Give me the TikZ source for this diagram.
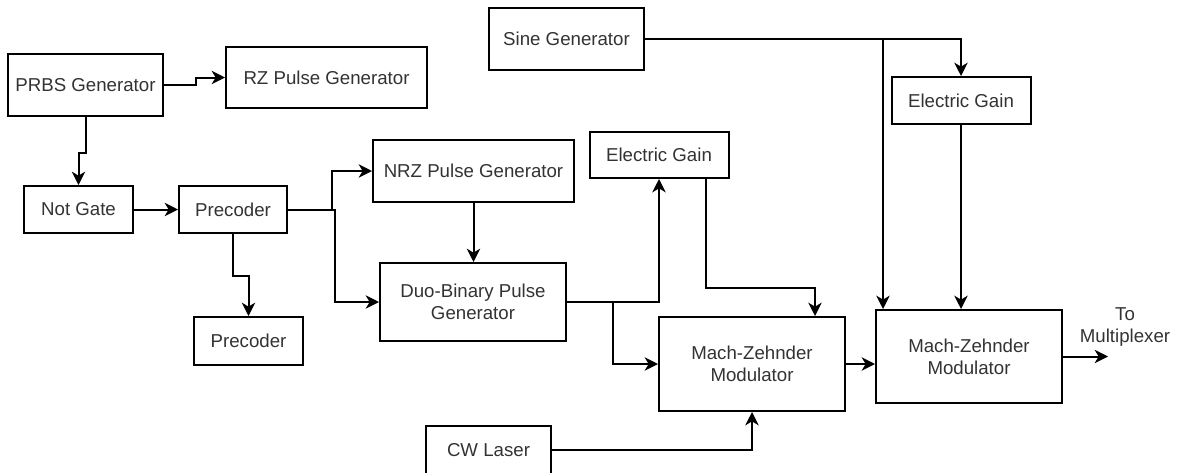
\documentclass[tikz,border=0pt]{standalone}
\usepackage{fontspec}
\setmainfont{Liberation Sans}
\usepackage{tikz}
\usetikzlibrary{positioning,arrows.meta}
\definecolor{TextGray}{RGB}{51,51,51}
\tikzset{
  blk/.style={draw=black,line width=1.5pt,fill=white,inner sep=2pt,align=center,
    text=TextGray,font=\fontsize{14}{16.5}\selectfont},
  link/.style={draw=black,line width=1.5pt,-{Stealth[length=10pt,width=10pt,inset=3pt]}},
}
\begin{document}
\begin{tikzpicture}[x=0.75pt,y=-0.75pt]
\useasboundingbox (0,0) rectangle (1177,472);
\clip (0,0) rectangle (1177,472);
\node[blk,minimum width=116.25pt,minimum height=46.5pt] (prbs) at (85.5,85) {PRBS Generator};
\node[blk,minimum width=150.75pt,minimum height=45.75pt] (rzgen) at (326.5,77.5) {RZ Pulse Generator};
\node[blk,minimum width=81.75pt,minimum height=35.25pt] (notgate) at (78.5,209.5) {Not Gate};
\node[blk,minimum width=81pt,minimum height=35.25pt] (precA) at (233,209.5) {Precoder};
\node[blk,minimum width=150.75pt,minimum height=46.5pt] (nrzgen) at (473.5,171) {NRZ Pulse Generator};
\node[blk,minimum width=139.5pt,minimum height=58.5pt] (duobin) at (473,302) {Duo-Binary Pulse\\Generator};
\node[blk,minimum width=81.75pt,minimum height=36pt] (precB) at (248.5,341) {Precoder};
\node[blk,minimum width=116.25pt,minimum height=46.5pt] (sinegen) at (566.5,39) {Sine Generator};
\node[blk,minimum width=104.25pt,minimum height=34.5pt] (gainA) at (659,155) {Electric Gain};
\node[blk,minimum width=104.25pt,minimum height=35.25pt] (gainB) at (961,100.5) {Electric Gain};
\node[blk,minimum width=139.5pt,minimum height=70.5pt] (mzmA) at (752,364) {Mach-Zehnder\\Modulator};
\node[blk,minimum width=139.5pt,minimum height=69.75pt] (mzmB) at (969,356.5) {Mach-Zehnder\\Modulator};
\node[blk,minimum width=93.75pt,minimum height=36pt] (cwlaser) at (488.5,450) {CW Laser};
\node[align=center,text=TextGray,font=\fontsize{14}{16.5}\selectfont] (tomux) at (1125,327) {To\\Multiplexer};
\draw[link] (prbs.east) -- ++(32,0) |- (rzgen.west);
\draw[link] (prbs.south) -- ++(0,36) -| (notgate.north);
\draw[link] (notgate.east) -- (precA.west);
\draw[link] (precA.east) -- ++(44,0) |- (nrzgen.west);
\draw[link] (precA.east) -- ++(47,0) |- (duobin.west);
\draw[link] (precA.south) -- ++(0,42) -| (precB.north);
\draw[link] (nrzgen.south) -- (nrzgen.south |- duobin.north);
\draw[link] (duobin.east) -| (gainA.south);
\draw[link] (duobin.east) -- ++(46,0) |- (mzmA.west);
\draw[link] ([xshift=35pt]gainA.south) -- ++(0,109) -| ([xshift=47.25pt]mzmA.north);
\draw[link] (sinegen.east) -| (gainB.north);
\draw[link] (sinegen.east) -| ([xshift=6pt]mzmB.north west);
\draw[link] (gainB.south) -- (gainB.south |- mzmB.north);
\draw[link] (mzmA.east) -- (mzmA.east -| mzmB.west);
\draw[link] (cwlaser.east) -| (mzmA.south);
\draw[link] (mzmB.east) -- ++(45,0);
\end{tikzpicture}
\end{document}
